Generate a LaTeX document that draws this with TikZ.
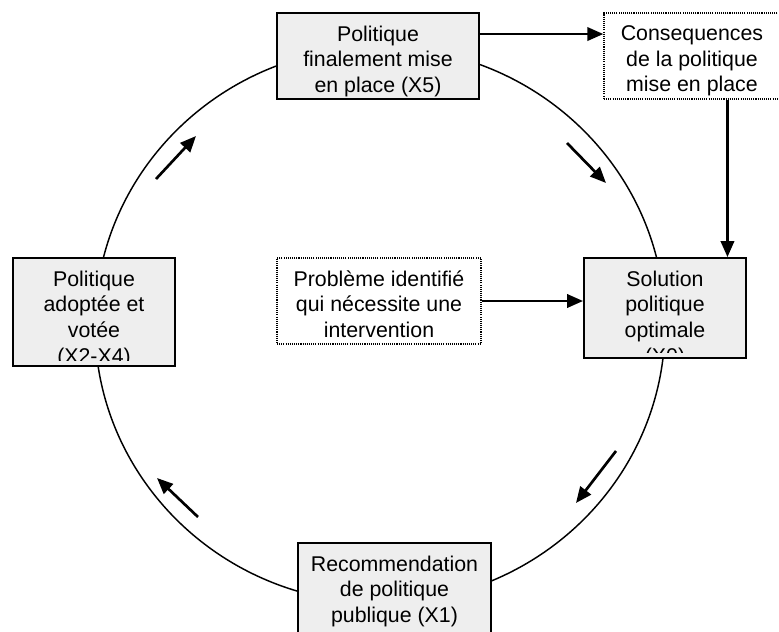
\documentclass[tikz,border=0pt]{standalone}
\usepackage{fontspec}
\setmainfont{Liberation Sans}
\usetikzlibrary{arrows.meta,calc}
\definecolor{boxfill}{RGB}{238,238,238}
\tikzset{every picture/.style={line width=0.75pt}}
\tikzset{
  boxtext/.style={inner sep=0pt, align=center, anchor=north, minimum width=0pt, minimum height=0pt, font=\fontsize{16}{19.2}\selectfont},
  txt/.style n args={3}{path picture={
      \clip ($(path picture bounding box.south west)!#3!(path picture bounding box.north west)$) rectangle (path picture bounding box.north east);
      \node[boxtext] (#1) at ($(path picture bounding box.north)!9pt!(path picture bounding box.south)$) {#2};}},
  greybox/.style={draw, fill=boxfill, line width=1.4pt},
  dotbox/.style={draw, fill=white, line width=1pt, dash pattern=on 0.8pt off 0.8pt},
  flow/.style={line width=2pt, -{Triangle[length=12pt,width=10pt]}},
  ring/.style={line width=1.1pt}
}

\begin{document}
\begin{tikzpicture}[x=0.75pt,y=0.75pt,yscale=-1,xscale=1]
        \useasboundingbox (0,0) rectangle (779,632);

        %Shape: Ellipse [cycle]
        \draw[ring] (380,325) ellipse [x radius=285, y radius=278];

        %Shape: Rectangle [x5]
        \node[greybox, minimum width=151.5pt, minimum height=64.5pt, txt={x5t}{Politique\\finalement mise\\en place (X5)}{0pt}] (x5) at (378,56) {};
        %Shape: Rectangle [cons]
        \node[dotbox, minimum width=132pt, minimum height=64.5pt, txt={const}{Consequences\\de la politique\\mise en place}{0pt}] (cons) at (692,56) {};
        %Shape: Rectangle [adopt]
        \node[greybox, minimum width=121.5pt, minimum height=81pt, txt={adoptt}{Politique\\adoptée et\\votée\\(X2-X4)}{4pt}] (adopt) at (94,312) {};
        %Shape: Rectangle [prob]
        \node[dotbox, minimum width=153pt, minimum height=64.5pt, txt={probt}{Problème identifié\\qui nécessite une\\intervention}{0pt}] (prob) at (379,301) {};
        %Shape: Rectangle [sol]
        \node[greybox, minimum width=121.5pt, minimum height=75pt, txt={solt}{Solution\\politique\\optimale\\(X0)}{4pt}] (sol) at (665,308) {};
        %Shape: Rectangle [recom]
        \node[greybox, minimum width=144.75pt, minimum height=67.5pt, txt={recomt}{Recommendation\\de politique\\publique (X1)}{0pt}] (recom) at (394.5,588) {};

        \coordinate (x5out) at ($(x5.north east)!0.25!(x5.south east)$);
        \coordinate (drop) at ($(cons.south west)!0.7!(cons.south east)$);

        %Straight Lines
        \draw[flow] (x5out) -- (x5out -| cons.west);
        \draw[flow] (drop) -- (drop |- sol.north);
        \draw[flow] (prob.east) -- (prob.east -| sol.west);

        %Straight Lines [cycle arrows]
        \draw[flow] (156,179) -- (196,136);
        \draw[flow] (567,143) -- (606,183);
        \draw[flow] (616,451) -- (576,503);
        \draw[flow] (198,517) -- (157,478);

\end{tikzpicture}
\end{document}
